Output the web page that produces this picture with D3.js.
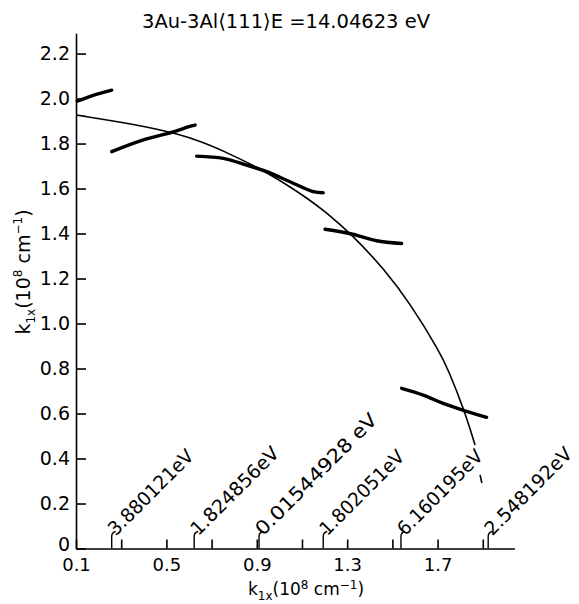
<!DOCTYPE html>
<html><head><meta charset="utf-8">
<script src="https://cdn.jsdelivr.net/npm/d3@7/dist/d3.min.js"></script>
<style>
body{margin:0;background:#fff}
svg text{font-family:"DejaVu Sans",sans-serif;fill:#000}
</style>
</head><body>
<svg id="chart" width="579" height="604"></svg>
<script>
// ---------- data ----------
const titleText = "3Au-3Al\u27E8111\u27E9E =14.04623 eV";
const xTickValues = [0.1, 0.3, 0.5, 0.7, 0.9, 1.1, 1.3, 1.5, 1.7, 1.9];
const xTickLabels = ["0.1", "", "0.5", "", "0.9", "", "1.3", "", "1.7", ""];
const yTickValues = [0, 0.2, 0.4, 0.6, 0.8, 1.0, 1.2, 1.4, 1.6, 1.8, 2.0, 2.2];
const yTickLabels = ["0", "0.2", "0.4", "0.6", "0.8", "1.0", "1.2", "1.4", "1.6", "1.8", "2.0", "2.2"];

// thin constant-energy arc
const arcKx = [0.100, 0.383, 0.560, 0.649, 0.737, 0.958, 1.135, 1.194, 1.320, 1.467, 1.578, 1.711, 1.747, 1.818, 1.866];
const arcKy = [1.927, 1.882, 1.840, 1.810, 1.775, 1.668, 1.549, 1.504, 1.397, 1.238, 1.090, 0.872, 0.795, 0.616, 0.460];
const arcTailKx = [1.888, 1.896];
const arcTailKy = [0.327, 0.291];

// thick branches
const branchAKx = [0.105, 0.170, 0.258];
const branchAKy = [1.988, 2.012, 2.037];
const branchBKx = [0.258, 0.398, 0.531, 0.600, 0.627];
const branchBKy = [1.764, 1.816, 1.852, 1.875, 1.882];
const branchCKx = [0.634, 0.752, 0.855, 0.944, 1.047, 1.150, 1.194];
const branchCKy = [1.744, 1.734, 1.704, 1.675, 1.630, 1.586, 1.581];
const branchDKx = [1.202, 1.320, 1.430, 1.541];
const branchDKy = [1.419, 1.398, 1.368, 1.356];
const branchEKx = [1.541, 1.637, 1.725, 1.821, 1.917];
const branchEKy = [0.712, 0.682, 0.645, 0.612, 0.583];

// gap markers on the k axis
const gapKx = [0.258, 0.623, 0.910, 1.194, 1.538, 1.924];
const gapLabels = ["3.880121eV", "1.824856eV", "0.01544928 eV", "1.802051eV", "6.160195eV", "2.548192eV"];
const gapLabelLengths = [112, 116, 163, 111, 112, 115];

// ---------- drawing ----------
const svg = d3.select("#chart");
const x = d3.scaleLinear().domain([0.1, 2.04]).range([76, 514.4]);
const y = d3.scaleLinear().domain([0, 2.29]).range([548.5, 33.3]);

// title
svg.append("text").attr("x", 142).attr("y", 28)
  .attr("font-size", 20).attr("textLength", 288).attr("lengthAdjust", "spacingAndGlyphs")
  .text(titleText);

// axes
const yAxis = d3.axisLeft(y).tickValues(yTickValues)
  .tickFormat((d, i) => yTickLabels[i]).tickSizeInner(-10).tickSizeOuter(0).tickPadding(6);
const gy = svg.append("g").attr("transform", `translate(${x(0.1)},0)`).call(yAxis);
gy.selectAll("text").attr("font-size", 19).style("font-family", "DejaVu Sans");
gy.selectAll(".tick text").filter(d => d === 0).attr("dy", "0.1em");
gy.selectAll("line,path").attr("stroke", "#000").attr("stroke-width", 1.6);

const xAxis = d3.axisBottom(x).tickValues(xTickValues)
  .tickFormat((d, i) => xTickLabels[i]).tickSizeInner(-9).tickSizeOuter(0).tickPadding(10);
const gx = svg.append("g").attr("transform", `translate(0,${y(0)})`).call(xAxis);
gx.selectAll("text").attr("font-size", 18).style("font-family", "DejaVu Sans");
gx.selectAll("line,path").attr("stroke", "#000").attr("stroke-width", 1.6);

// axis titles
function axisTitle(sel, sup) {
  sel.append("tspan").text("k");
  sel.append("tspan").attr("font-size", 12).attr("dy", 5).text("1x");
  sel.append("tspan").attr("dy", -5).text("(10");
  sel.append("tspan").attr("font-size", 12).attr("dy", -sup).text("8");
  sel.append("tspan").attr("dy", sup).text(" cm");
  sel.append("tspan").attr("font-size", 12).attr("dy", -sup).text("\u22121");
  sel.append("tspan").attr("dy", sup).text(")");
}
svg.append("text").attr("x", 306).attr("y", 595).attr("text-anchor", "middle")
  .attr("font-size", 17).call(axisTitle, 6);
svg.append("text").attr("transform", "translate(30,272) rotate(-90)").attr("text-anchor", "middle")
  .attr("font-size", 19).call(axisTitle, 8);

// curves
const zip = (a, b) => a.map((v, i) => [v, b[i]]);
const smoothLine = d3.line().x(d => x(d[0])).y(d => y(d[1])).curve(d3.curveBasis);
const line = d3.line().x(d => x(d[0])).y(d => y(d[1])).curve(d3.curveCatmullRom.alpha(0.5));

svg.append("path").attr("d", smoothLine(zip(arcKx, arcKy)))
  .attr("fill", "none").attr("stroke", "#000").attr("stroke-width", 1.6);
svg.append("path").attr("d", line(zip(arcTailKx, arcTailKy)))
  .attr("fill", "none").attr("stroke", "#000").attr("stroke-width", 1.6);

[[branchAKx, branchAKy], [branchBKx, branchBKy], [branchCKx, branchCKy],
 [branchDKx, branchDKy], [branchEKx, branchEKy]].forEach(([kx, ky]) => {
  svg.append("path").attr("d", line(zip(kx, ky)))
    .attr("fill", "none").attr("stroke", "#000").attr("stroke-width", 3.4)
    .attr("stroke-linecap", "round");
});

// gap hooks and labels
const y0 = y(0);
gapKx.forEach((k, i) => {
  const px = x(k);
  svg.append("path")
    .attr("d", `M${px},${y0} V${y0 - 12} Q${px},${y0 - 16} ${px + 4},${y0 - 17}`)
    .attr("fill", "none").attr("stroke", "#000").attr("stroke-width", 1.4);
  svg.append("text")
    .attr("transform", `translate(${px + 4},${y0 - 12}) rotate(-45)`)
    .attr("font-size", 19)
    .attr("textLength", gapLabelLengths[i]).attr("lengthAdjust", "spacingAndGlyphs")
    .text(gapLabels[i]);
});
</script>
</body></html>
